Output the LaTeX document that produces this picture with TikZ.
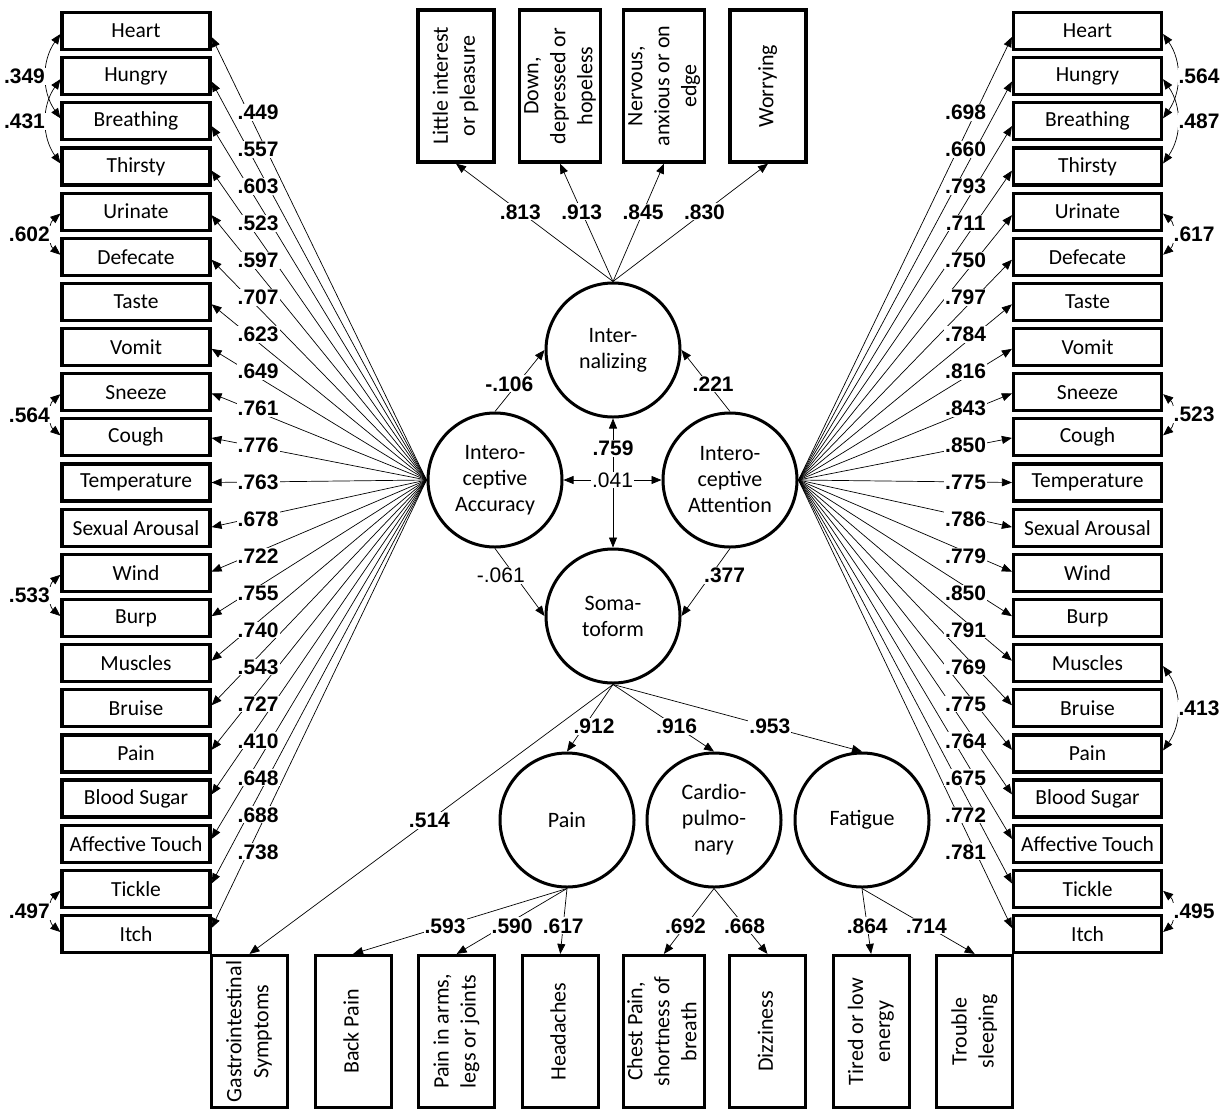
\documentclass[tikz,border=0pt]{standalone}
\usepackage{fontspec}
\setmainfont{Carlito}
\newfontfamily\numfont{Liberation Sans}
\usepackage{graphicx}
\usetikzlibrary{arrows.meta}

\newcommand\vtext[1]{\rotatebox{90}{\begin{tabular}{@{}c@{}}#1\end{tabular}}}

\begin{document}
\begin{tikzpicture}[x=1pt,y=-1pt,
  obs/.style={draw,line width=3.2pt,minimum width=148pt,minimum height=37pt,inner sep=0pt,font=\fontsize{21.5}{26}\selectfont},
  vobs/.style={draw,line width=3.2pt,minimum width=76pt,minimum height=152pt,inner sep=0pt,font=\fontsize{22}{27}\selectfont},
  lat/.style={draw,circle,line width=3pt,minimum size=134pt,inner sep=0pt,align=center,font=\fontsize{22}{26}\selectfont},
  arr/.style={-{Triangle[length=10pt,width=8pt]},line width=0.7pt},
  cov/.style={{Triangle[length=10pt,width=8pt]}-{Triangle[length=10pt,width=8pt]},line width=0.7pt},
  est/.style={fill=white,inner sep=1pt,font=\numfont\bfseries\fontsize{21}{24}\selectfont},
  estn/.style={fill=white,inner sep=1pt,font=\numfont\fontsize{21}{24}\selectfont}
]
\useasboundingbox (0,0) rectangle (1221,1109);

\def\loadL{.449,.557,.603,.523,.597,.707,.623,.649,.761,.776,.763,.678,.722,.755,.740,.543,.727,.410,.648,.688,.738}
\def\loadR{.698,.660,.793,.711,.750,.797,.784,.816,.843,.850,.775,.786,.779,.850,.791,.769,.775,.764,.675,.772,.781}

% latent factors
\node[lat] (int)    at (613,350) {Inter-\\nalizing};
\node[lat] (acc)    at (495,480) {Intero-\\ceptive\\Accuracy};
\node[lat] (att)    at (730,480) {Intero-\\ceptive\\Attention};
\node[lat] (som)    at (613,616) {Soma-\\toform};
\node[lat] (painF)  at (567,820) {Pain};
\node[lat] (cardio) at (714,820) {Cardio-\\pulmo-\\nary};
\node[lat] (fatig)  at (862,820) {Fatigue};

% interoceptive items, both sides
\foreach \t [count=\i from 0] in {Heart,Hungry,Breathing,Thirsty,Urinate,Defecate,Taste,Vomit,Sneeze,Cough,Temperature,Sexual Arousal,Wind,Burp,Muscles,Bruise,Pain,Blood Sugar,Affective Touch,Tickle,Itch}{
  \node[obs] (L\i) at (136,{31+45.15*\i}) {\t};
  \node[obs] (R\i) at (1087.5,{31+45.15*\i}) {\t};
}

% internalizing and somatoform items
\foreach \t [count=\i from 0] in {{Little interest\\or pleasure},{Down,\\depressed or\\hopeless},{Nervous,\\anxious or on\\edge},{Worrying}}
  \node[vobs] (T\i) at ({456+104*\i},86) {\vtext{\t}};
\foreach \t [count=\i from 0] in {{Gastrointestinal\\Symptoms},{Back Pain},{Pain in arms,\\legs or joints},{Headaches},{Chest Pain,\\shortness of\\breath},{Dizziness},{Tired or low\\energy},{Trouble\\sleeping}}
  \node[vobs] (B\i) at ({249.5+103.6*\i},1031.5) {\vtext{\t}};

% fan loadings
\foreach \v [count=\i from 0] in \loadL
  \draw[arr] (acc.west) -- ([yshift={(\i-10)*0.6pt}]L\i.east);
\foreach \v [count=\i from 0] in \loadR
  \draw[arr] (att.east) -- ([yshift={(\i-10)*0.6pt}]R\i.west);
\foreach \v [count=\i from 0] in \loadL
  \path (acc.west) -- ([yshift={(\i-10)*0.6pt}]L\i.east) node[est,pos=0.83,xshift=10pt]{\v};
\foreach \v [count=\i from 0] in \loadR
  \path (att.east) -- ([yshift={(\i-10)*0.6pt}]R\i.west) node[est,pos=0.83,xshift=-10pt]{\v};

% residual covariances
\draw[cov] ([yshift=-3pt]L0.west) to[bend right=35] node[est,left]{.349} ([yshift=3pt]L2.west);
\draw[cov] ([yshift=-3pt]L1.west) to[bend right=35] node[est,left]{.431} ([yshift=3pt]L3.west);
\draw[cov] ([yshift=-2pt]L4.west) to[bend right=50] node[est,left]{.602} ([yshift=2pt]L5.west);
\draw[cov] ([yshift=-2pt]L8.west) to[bend right=50] node[est,left]{.564} ([yshift=2pt]L9.west);
\draw[cov] ([yshift=-2pt]L12.west) to[bend right=50] node[est,left]{.533} ([yshift=2pt]L13.west);
\draw[cov] ([yshift=-2pt]L19.west) to[bend right=50] node[est,left]{.497} ([yshift=2pt]L20.west);
\draw[cov] ([yshift=-3pt]R0.east) to[bend left=35] node[est,right]{.564} ([yshift=3pt]R2.east);
\draw[cov] ([yshift=-3pt]R1.east) to[bend left=35] node[est,right]{.487} ([yshift=3pt]R3.east);
\draw[cov] ([yshift=-2pt]R4.east) to[bend left=50] node[est,right]{.617} ([yshift=2pt]R5.east);
\draw[cov] ([yshift=-2pt]R8.east) to[bend left=50] node[est,right]{.523} ([yshift=2pt]R9.east);
\draw[cov] ([yshift=-3pt]R14.east) to[bend left=35] node[est,right]{.413} ([yshift=3pt]R16.east);
\draw[cov] ([yshift=-2pt]R19.east) to[bend left=50] node[est,right]{.495} ([yshift=2pt]R20.east);

% internalizing
\foreach \v [count=\i from 0] in {.813,.913,.845,.830}
  \draw[arr] (int.north) -- (T\i.south) node[est,pos=0.59]{\v};

% structural paths
\draw[arr] (acc.north) -- (int.west) node[est,pos=0.45,xshift=-8pt]{-.106};
\draw[arr] (att.north) -- (int.east) node[est,pos=0.45,xshift=5pt]{.221};
\draw[cov] (int.south) -- (som.north) node[est,pos=0.23]{.759};
\draw[cov] (acc.east) -- (att.west) node[estn,midway]{.041};
\draw[arr] (acc.south) -- (som.west) node[estn,pos=0.4,xshift=-14pt]{-.061};
\draw[arr] (att.south) -- (som.east) node[est,pos=0.4,xshift=14pt]{.377};

% somatoform
\draw[arr] (som.south) -- (B0.north) node[est,pos=0.505]{.514};
\draw[arr] (som.south) -- (painF.north) node[est,pos=0.63,xshift=10pt]{.912};
\draw[arr] (som.south) -- (cardio.north) node[est,pos=0.63]{.916};
\draw[arr] (som.south) -- (fatig.north) node[est,pos=0.63]{.953};

\draw[arr] (painF.south) -- (B1.north) node[est,pos=0.57]{.593};
\draw[arr] (painF.south) -- (B2.north) node[est,pos=0.57,xshift=8pt]{.590};
\draw[arr] (painF.south) -- (B3.north) node[est,pos=0.57]{.617};
\draw[arr] (cardio.south) -- (B4.north) node[est,pos=0.57]{.692};
\draw[arr] (cardio.south) -- (B5.north) node[est,pos=0.57]{.668};
\draw[arr] (fatig.south) -- (B6.north) node[est,pos=0.57]{.864};
\draw[arr] (fatig.south) -- (B7.north) node[est,pos=0.57]{.714};
\end{tikzpicture}
\end{document}
